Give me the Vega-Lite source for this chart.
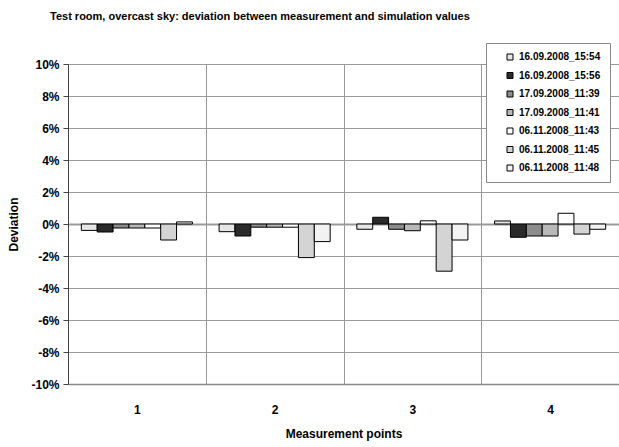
{
  "$schema": "https://vega.github.io/schema/vega-lite/v6.json",
  "autosize": {"type": "none"},
  "padding": {"left": 68, "top": 64, "right": 0, "bottom": 63},
  "width": 551,
  "height": 320,
  "background": "white",
  "config": {
    "view": {"stroke": null},
    "font": "Liberation Sans"
  },
  "title": {
    "text": "Test room, overcast sky: deviation between measurement and simulation values",
    "anchor": "start",
    "frame": "group",
    "dx": -18,
    "offset": 21,
    "fontSize": 11,
    "fontWeight": "bold",
    "color": "#000"
  },
  "data": {
    "values": [
      {"point": "1", "series": "16.09.2008_15:54", "value": -0.004},
      {"point": "1", "series": "16.09.2008_15:56", "value": -0.005},
      {"point": "1", "series": "17.09.2008_11:39", "value": -0.0025},
      {"point": "1", "series": "17.09.2008_11:41", "value": -0.0025},
      {"point": "1", "series": "06.11.2008_11:43", "value": -0.0025},
      {"point": "1", "series": "06.11.2008_11:45", "value": -0.01},
      {"point": "1", "series": "06.11.2008_11:48", "value": 0.0013},
      {"point": "2", "series": "16.09.2008_15:54", "value": -0.0048},
      {"point": "2", "series": "16.09.2008_15:56", "value": -0.0075},
      {"point": "2", "series": "17.09.2008_11:39", "value": -0.002},
      {"point": "2", "series": "17.09.2008_11:41", "value": -0.002},
      {"point": "2", "series": "06.11.2008_11:43", "value": -0.002},
      {"point": "2", "series": "06.11.2008_11:45", "value": -0.021},
      {"point": "2", "series": "06.11.2008_11:48", "value": -0.011},
      {"point": "3", "series": "16.09.2008_15:54", "value": -0.0033},
      {"point": "3", "series": "16.09.2008_15:56", "value": 0.0042},
      {"point": "3", "series": "17.09.2008_11:39", "value": -0.0033},
      {"point": "3", "series": "17.09.2008_11:41", "value": -0.0042},
      {"point": "3", "series": "06.11.2008_11:43", "value": 0.002},
      {"point": "3", "series": "06.11.2008_11:45", "value": -0.0295},
      {"point": "3", "series": "06.11.2008_11:48", "value": -0.01},
      {"point": "4", "series": "16.09.2008_15:54", "value": 0.0019},
      {"point": "4", "series": "16.09.2008_15:56", "value": -0.0083},
      {"point": "4", "series": "17.09.2008_11:39", "value": -0.0075},
      {"point": "4", "series": "17.09.2008_11:41", "value": -0.0075},
      {"point": "4", "series": "06.11.2008_11:43", "value": 0.0067},
      {"point": "4", "series": "06.11.2008_11:45", "value": -0.0063},
      {"point": "4", "series": "06.11.2008_11:48", "value": -0.0033}
    ]
  },
  "mark": {"type": "bar", "stroke": "#000", "strokeWidth": 1},
  "encoding": {
    "x": {
      "field": "point",
      "type": "nominal",
      "scale": {"paddingInner": 0, "paddingOuter": 0},
      "axis": {
        "title": "Measurement points",
        "labelAngle": 0,
        "labelFontSize": 12,
        "labelFontWeight": "bold",
        "labelColor": "#000",
        "labelPadding": 20,
        "titleFontSize": 12,
        "titleFontWeight": "bold",
        "titleColor": "#000",
        "titlePadding": 13,
        "ticks": false,
        "tickBand": "extent",
        "grid": true,
        "gridColor": "#999",
        "gridWidth": 1,
        "domainColor": "#888",
        "domainWidth": 1.5
      }
    },
    "xOffset": {
      "field": "series",
      "type": "nominal",
      "sort": ["16.09.2008_15:54", "16.09.2008_15:56", "17.09.2008_11:39", "17.09.2008_11:41", "06.11.2008_11:43", "06.11.2008_11:45", "06.11.2008_11:48"],
      "scale": {"paddingInner": 0, "paddingOuter": 0.84}
    },
    "y": {
      "field": "value",
      "type": "quantitative",
      "scale": {"domain": [-0.1, 0.1], "nice": false, "zero": false},
      "axis": {
        "title": "Deviation",
        "format": ".0%",
        "labelExpr": "replace(datum.label, '\u2212', '-')",
        "values": [-0.1, -0.08, -0.06, -0.04, -0.02, 0, 0.02, 0.04, 0.06, 0.08, 0.1],
        "labelOverlap": false,
        "labelFontSize": 12,
        "labelFontWeight": "bold",
        "labelColor": "#000",
        "labelPadding": 4,
        "tickSize": 5,
        "tickColor": "#444",
        "domainColor": "#444",
        "gridColor": "#999",
        "gridWidth": {"condition": {"test": "datum.value === 0", "value": 2}, "value": 1},
        "titleFontSize": 12,
        "titleFontWeight": "bold",
        "titleColor": "#000",
        "titlePadding": 10
      }
    },
    "color": {
      "field": "series",
      "type": "nominal",
      "scale": {
        "domain": ["16.09.2008_15:54", "16.09.2008_15:56", "17.09.2008_11:39", "17.09.2008_11:41", "06.11.2008_11:43", "06.11.2008_11:45", "06.11.2008_11:48"],
        "range": ["#e6e6e6", "#2a2a2a", "#8c8c8c", "#b8b8b8", "#ffffff", "#d4d4d4", "#f2f2f2"]
      },
      "legend": {
        "title": null,
        "orient": "none",
        "legendX": 418,
        "legendY": -21,
        "symbolType": "square",
        "symbolSize": 36,
        "symbolStrokeColor": "#000",
        "symbolStrokeWidth": 1,
        "symbolOffset": 10,
        "labelFontSize": 10,
        "labelFontWeight": "bold",
        "labelColor": "#000",
        "labelOffset": 4,
        "rowPadding": 8.5,
        "padding": 9,
        "fillColor": "white",
        "strokeColor": "#888"
      }
    }
  }
}
